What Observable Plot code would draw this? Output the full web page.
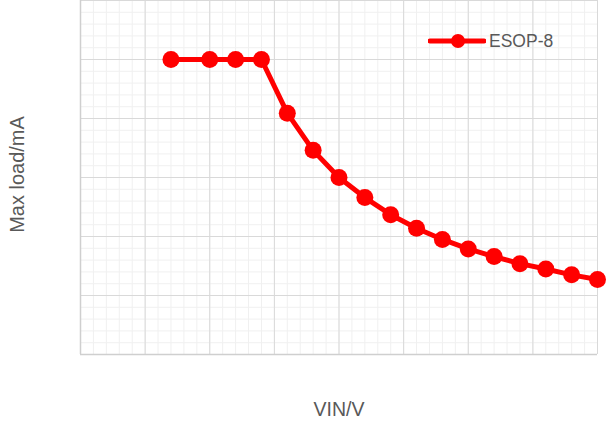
<!DOCTYPE html>
<html>
<head>
<meta charset="utf-8">
<script src="https://cdn.jsdelivr.net/npm/d3@7"></script>
<script src="https://cdn.jsdelivr.net/npm/@observablehq/plot@0.6"></script>
<style>
  html, body { margin: 0; padding: 0; background: #fff; }
  #wrap { position: relative; width: 613px; height: 423px; font-family: "Liberation Sans", Arial, sans-serif; }
  #legend { position: absolute; left: 428px; top: 31px; height: 20px; display: flex; align-items: center; gap: 3px; color: #595959; font-size: 17.5px; line-height: 20px; }
</style>
</head>
<body>
<div id="wrap">
  <div id="chart"></div>
  <div id="legend">
    <svg width="58" height="20"><line x1="2" y1="10" x2="56" y2="10" stroke="#ff0000" stroke-width="5" stroke-linecap="round"/><circle cx="30" cy="10" r="7" fill="#ff0000"/></svg>
    <span></span>
  </div>
</div>
<script>
const seriesName = "ESOP-8";
const vin = [7, 10, 12, 14, 16, 18, 20, 22, 24, 26, 28, 30, 32, 34, 36, 38, 40];
const maxLoad = [500, 500, 500, 500, 409, 346, 300, 266, 237, 214, 195, 179, 166, 154, 145, 135, 127];
const xMajorTicks = d3.range(0, 41, 5);
const xMinorTicks = d3.range(0, 41, 1);
const yMajorTicks = d3.range(0, 601, 100);
const yMinorTicks = d3.range(0, 601, 20);
const xTitle = "VIN/V";
const yTitle = "Max load/mA";

const data = vin.map((v, i) => ({vin: v, load: maxLoad[i]}));

const chart = Plot.plot({
  width: 613,
  height: 423,
  marginLeft: 80,
  marginRight: 16,
  marginTop: 0,
  marginBottom: 69,
  style: {fontFamily: "Liberation Sans, Arial, sans-serif", background: "#fff"},
  x: {domain: [0, 40], axis: null},
  y: {domain: [0, 600], axis: null},
  marks: [
    Plot.ruleX(xMinorTicks, {stroke: "#f0f0f0", strokeWidth: 1}),
    Plot.ruleY(yMinorTicks, {stroke: "#f0f0f0", strokeWidth: 1}),
    Plot.ruleX(xMajorTicks, {stroke: "#d9d9d9", strokeWidth: 1}),
    Plot.ruleY(yMajorTicks, {stroke: "#d9d9d9", strokeWidth: 1}),
    Plot.ruleX([0], {stroke: "#cfcfcf", strokeWidth: 1.5}),
    Plot.ruleY([0], {stroke: "#cfcfcf", strokeWidth: 1.5}),
    Plot.line(data, {x: "vin", y: "load", stroke: "#ff0000", strokeWidth: 5, strokeLinejoin: "round"}),
    Plot.dot(data, {x: "vin", y: "load", r: 8.5, fill: "#ff0000", stroke: "none"}),
    Plot.text([xTitle], {frameAnchor: "bottom", textAnchor: "middle", lineAnchor: "middle", dy: 55, text: d => d, fontSize: 19.5, fill: "#595959"}),
    Plot.text([yTitle], {frameAnchor: "left", textAnchor: "middle", lineAnchor: "middle", dx: -63, dy: -3, rotate: -90, text: d => d, fontSize: 20, fill: "#595959"})
  ]
});
document.getElementById("chart").appendChild(chart);
document.querySelector("#legend span").textContent = seriesName;
</script>
</body>
</html>
